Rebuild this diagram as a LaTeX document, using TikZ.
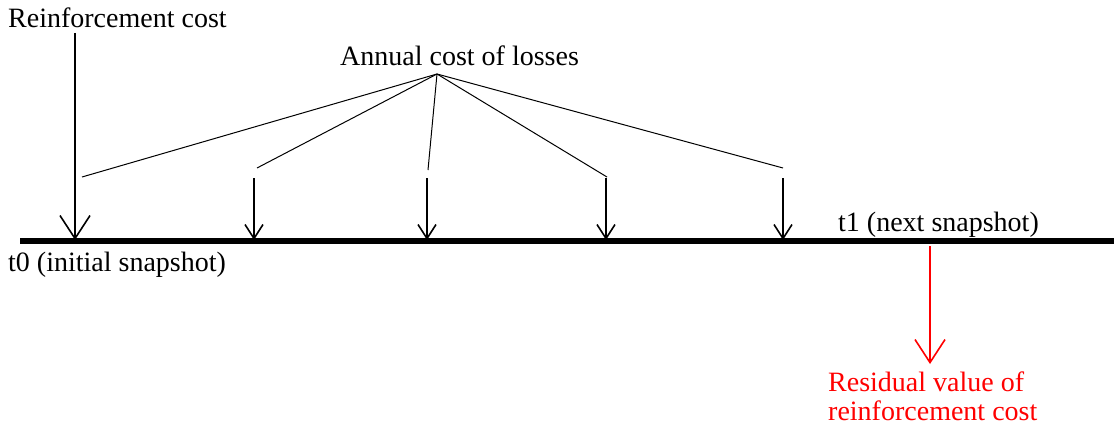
\documentclass[tikz,border=0pt]{standalone}
\usepackage{fontspec}
\setmainfont{Liberation Serif}
\usetikzlibrary{arrows.meta,positioning}

\begin{document}
\begin{tikzpicture}[x=1pt, y=-1pt,
    lbl/.style={inner sep=0pt, anchor=base west, font=\fontsize{28}{29}\selectfont},
    costarrow/.style={line width=2pt, -{Straight Barb[length=14pt, width=18pt, line width=1.6pt]}},
    bigarrow/.style={line width=2pt, -{Straight Barb[length=23pt, width=30pt, line width=1.6pt]}},
    fanline/.style={line width=1pt}]
    \useasboundingbox (0,0) rectangle (1114,428);

    % Timeline
    \coordinate (tstart) at (20,241);
    \coordinate (tend) at (1114,241);
    \draw[line width=6pt] (tstart) -- (tend);
    \node[lbl] (t0) at (8,271) {t0 (initial snapshot)};
    \node[lbl] (t1) at (838,231) {t1 (next snapshot)};

    % Reinforcement cost
    \node[lbl] (reinf) at (8,28) {Reinforcement cost};
    \coordinate (r0) at (75,33);
    \coordinate (r1) at (75,240);
    \draw[bigarrow] (r0) -- (r1);

    % Annual cost of losses
    \node[lbl] (annual) at (340,66) {Annual cost of losses};
    \coordinate (fan) at (437,74);
    \foreach \i/\x/\y in {1/82/177, 2/257/168, 3/428/170, 4/607/177, 5/783/168} {
        \coordinate (l\i) at (\x,\y);
        \draw[fanline] (fan) -- (l\i);
    }
    \foreach \i/\x in {1/254, 2/427, 3/606, 4/783} {
        \coordinate (a\i) at (\x,178);
        \coordinate (b\i) at (\x,240);
        \draw[costarrow] (a\i) -- (b\i);
    }

    % Residual value
    \coordinate (s0) at (930,246);
    \coordinate (s1) at (930,364);
    \draw[bigarrow, red] (s0) -- (s1);
    \node[lbl, red, align=left] (resid) at (828,420) {Residual value of\\reinforcement cost};
\end{tikzpicture}
\end{document}
